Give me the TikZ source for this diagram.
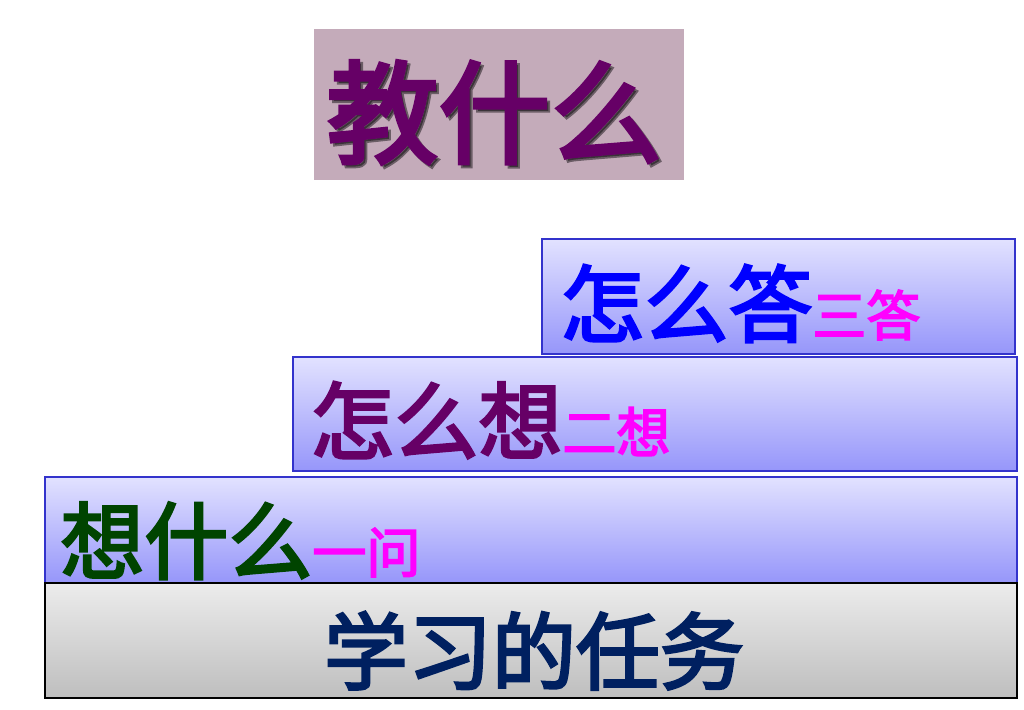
\documentclass[tikz,border=0pt]{standalone}
\usepackage{fontspec}
\newfontfamily\cjk[FakeBold=3.2]{Noto Sans CJK SC}
\newfontfamily\cjkhead[FakeBold=3.2]{Noto Sans CJK SC}
\usetikzlibrary{calc,positioning}
\definecolor{plum}{RGB}{196,171,186}
\definecolor{grape}{RGB}{102,0,102}
\definecolor{tierline}{RGB}{51,51,204}
\definecolor{tiertop}{RGB}{226,226,255}
\definecolor{tierbot}{RGB}{150,150,250}
\definecolor{basetop}{RGB}{236,236,236}
\definecolor{basebot}{RGB}{190,190,190}
\definecolor{leaf}{RGB}{0,68,0}
\definecolor{navy}{RGB}{0,32,96}
\definecolor{hint}{RGB}{255,0,255}
\tikzset{tier/.style={draw=tierline, line width=0.8pt, top color=tiertop, bottom color=tierbot,
    anchor=north west, inner sep=0pt},
  base/.style={draw=black, line width=1pt, top color=basetop, bottom color=basebot,
    anchor=north west, inner sep=0pt},
  big/.style={font=\cjk\fontsize{42}{42}\selectfont, inner sep=0pt, anchor=base west},
  head/.style={font=\cjkhead\fontsize{56}{56}\selectfont, inner sep=0pt, anchor=base west}}
\newcommand\hint[1]{\textcolor{hint}{\fontsize{27}{27}\selectfont #1}}

\begin{document}
\begin{tikzpicture}[x=0.5pt, y=-0.5pt]
  \useasboundingbox (0,0) rectangle (1024,709);
  % title plate with shadowed text
  \node[fill=plum, anchor=north west, minimum width=185pt, minimum height=75.5pt, inner sep=0pt] (plate) at (314,29) {};
  \node[head, text=black, opacity=0.45] (titleshade) at ($(plate.south west)+(15,-23)$) {教什么};
  \node[head, text=grape] (title) at ($(plate.south west)+(12,-26)$) {教什么};
  % three steps, top one first
  \node[tier, minimum width=236.5pt, minimum height=57.5pt] (answer) at (541,238) {};
  \node[tier, minimum width=362pt, minimum height=57pt] (think) at (292,356) {};
  \node[tier, minimum width=486pt, minimum height=53pt] (ask) at (44,476) {};
  \node[base, minimum width=486pt, minimum height=57.5pt] (task) at (44,582) {};
  \node[big, text=blue] (answertext) at ($(answer.south west)+(19,-19)$) {怎么答\hint{三答}};
  \node[big, text=grape] (thinktext) at ($(think.south west)+(18,-19)$) {怎么想\hint{二想}};
  \node[big, text=leaf] (asktext) at ($(ask.south west)+(16,-11)$) {想什么\hint{一问}};
  \node[big, text=navy, anchor=base] (tasktext) at ($(task.south)+(3,-16)$) {学习的任务};
\end{tikzpicture}
\end{document}
